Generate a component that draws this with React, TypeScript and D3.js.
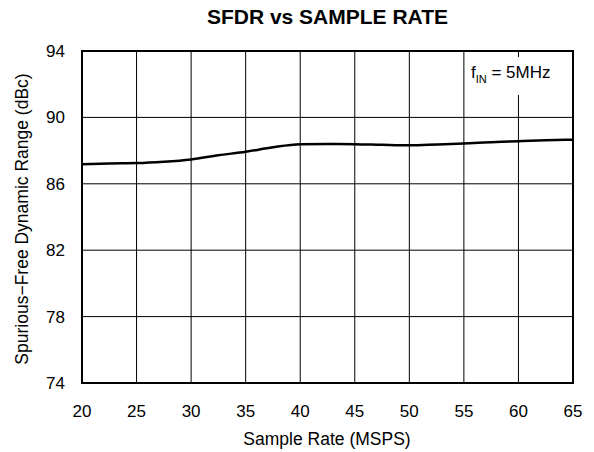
import React, { useEffect, useRef } from 'react';
import * as d3 from 'd3';

// sample rate (MSPS) and SFDR (dBc)
const sampleRate = [20, 22.5, 25, 27.5, 30, 32.5, 35, 37.5, 40, 42.5, 45, 47.5, 50, 52.5, 55, 57.5, 60, 62.5, 65];
const sfdr = [87.18, 87.23, 87.25, 87.33, 87.47, 87.72, 87.93, 88.2, 88.38, 88.4, 88.39, 88.35, 88.32, 88.37, 88.43, 88.5, 88.57, 88.63, 88.66];
const xTicks = [20, 25, 30, 35, 40, 45, 50, 55, 60, 65];
const yTicks = [74, 78, 82, 86, 90, 94];

const FONT = 'Arial, "Liberation Sans", Helvetica, sans-serif';

const App: React.FC = () => {
  const svgRef = useRef<SVGSVGElement>(null);

  useEffect(() => {
    if (!svgRef.current) return;
    const svg = d3.select(svgRef.current);
    svg.selectAll('*').remove();

    const left = 82, right = 573, top = 51, bottom = 383;

    const x = d3.scaleLinear().domain([20, 65]).range([left, right]);
    const y = d3.scaleLinear().domain([74, 94]).range([bottom, top]);

    // grid
    svg.append('g')
      .selectAll('line')
      .data(xTicks.slice(1, -1))
      .enter()
      .append('line')
      .attr('x1', d => x(d)).attr('x2', d => x(d))
      .attr('y1', top).attr('y2', bottom)
      .attr('stroke', '#000').attr('stroke-width', 1);

    svg.append('g')
      .selectAll('line')
      .data(yTicks.slice(1, -1))
      .enter()
      .append('line')
      .attr('x1', left).attr('x2', right)
      .attr('y1', d => y(d)).attr('y2', d => y(d))
      .attr('stroke', '#000').attr('stroke-width', 1);

    // annotation box covers the grid
    svg.append('rect')
      .attr('x', 466).attr('y', 57)
      .attr('width', 104).attr('height', 38)
      .attr('fill', '#fff');

    const note = svg.append('text')
      .attr('x', 471).attr('y', 78)
      .attr('font-family', FONT).attr('font-size', 17).attr('fill', '#000');
    note.append('tspan').text('f');
    note.append('tspan').attr('font-size', 11).attr('dy', 5).text('IN');
    note.append('tspan').attr('dy', -5).text(' = 5MHz');

    // frame
    svg.append('rect')
      .attr('x', left).attr('y', top)
      .attr('width', right - left).attr('height', bottom - top)
      .attr('fill', 'none').attr('stroke', '#000').attr('stroke-width', 2);

    // data line
    svg.append('path')
      .datum(sampleRate.map((s, i) => [s, sfdr[i]] as [number, number]))
      .attr('fill', 'none')
      .attr('stroke', '#000')
      .attr('stroke-width', 2.5)
      .attr('d', d3.line<[number, number]>()
        .x(d => x(d[0]))
        .y(d => y(d[1]))
        .curve(d3.curveMonotoneX));

    // tick labels
    svg.append('g')
      .selectAll('text')
      .data(xTicks)
      .enter()
      .append('text')
      .attr('x', d => x(d)).attr('y', 417)
      .attr('text-anchor', 'middle')
      .attr('font-family', FONT).attr('font-size', 17)
      .text(d => d);

    svg.append('g')
      .selectAll('text')
      .data(yTicks)
      .enter()
      .append('text')
      .attr('x', 65).attr('y', d => y(d) + 6)
      .attr('text-anchor', 'end')
      .attr('font-family', FONT).attr('font-size', 17)
      .text(d => d);

    // titles
    svg.append('text')
      .attr('x', 327.5).attr('y', 24)
      .attr('text-anchor', 'middle')
      .attr('font-family', FONT).attr('font-size', 21).attr('font-weight', 'bold')
      .text('SFDR vs SAMPLE RATE');

    svg.append('text')
      .attr('x', 327).attr('y', 445)
      .attr('text-anchor', 'middle')
      .attr('font-family', FONT).attr('font-size', 17.5)
      .text('Sample Rate (MSPS)');

    svg.append('text')
      .attr('transform', 'translate(28, 219) rotate(-90)')
      .attr('text-anchor', 'middle')
      .attr('font-family', FONT).attr('font-size', 17.5)
      .text('Spurious\u2212Free Dynamic Range (dBc)');
  }, []);

  return (
    <svg
      ref={svgRef}
      width={594}
      height={452}
      viewBox="0 0 594 452"
      style={{ display: 'block', position: 'absolute', left: 0, top: 0, background: '#fff' }}
    />
  );
};

export default App;
